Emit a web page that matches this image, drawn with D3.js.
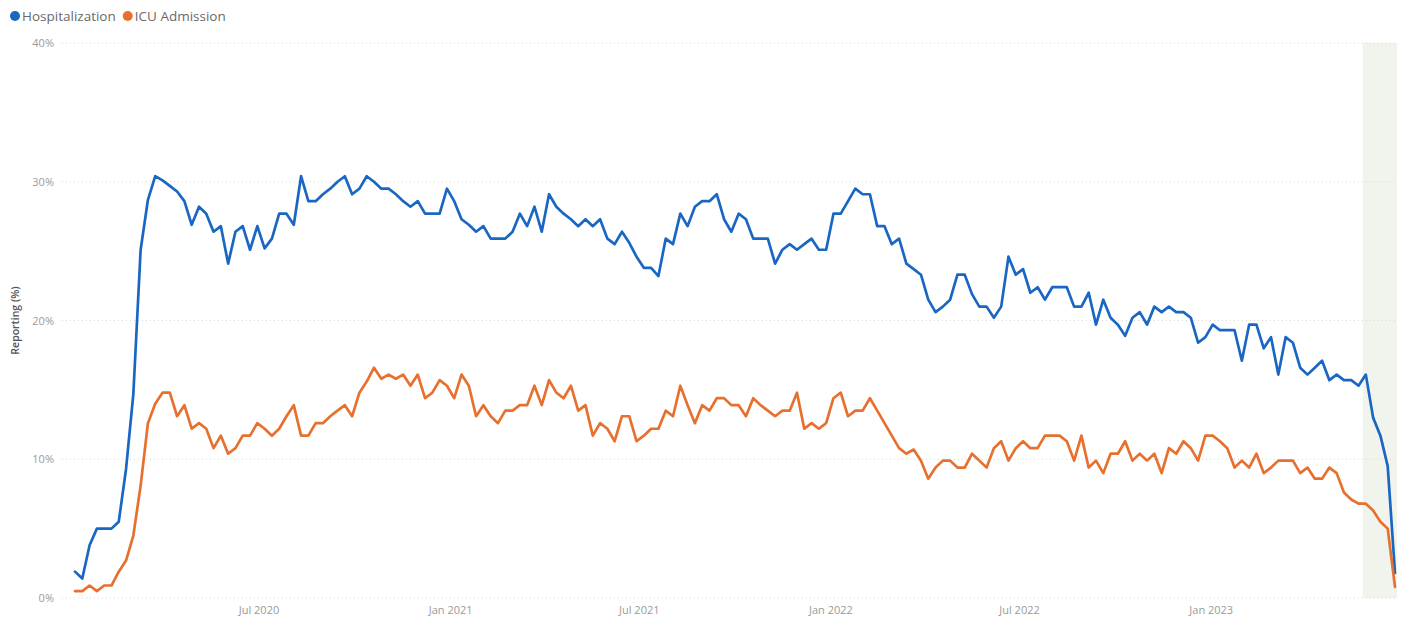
<!DOCTYPE html>
<html>
<head>
<meta charset="utf-8">
<script src="https://cdn.jsdelivr.net/npm/d3@7/dist/d3.min.js"></script>
<style>
  html, body { margin: 0; padding: 0; background: #fff; }
  svg { display: block; font-family: "Open Sans", "Noto Sans", sans-serif; }
</style>
</head>
<body>
<svg id="chart" width="1403" height="623"></svg>
<script>
// ---- data ----
const seriesNames = ["Hospitalization", "ICU Admission"];
const seriesColors = ["#1a67c3", "#e8702f"];
const startDate = "2020-01-04"; // first week-ending date; weekly series
const hospitalization = [
  1.9, 1.4, 3.8, 5.0, 5.0, 5.0, 5.5, 9.3, 14.7, 25.1, 28.7, 30.4, 30.1, 29.7, 29.3, 28.6, 26.9, 28.2, 27.7, 26.4, 26.8, 24.1, 26.4, 26.8, 25.1, 26.8, 25.2, 25.9, 27.7, 27.7,
  26.9, 30.4, 28.6, 28.6, 29.1, 29.5, 30.0, 30.4, 29.1, 29.5, 30.4, 30.0, 29.5, 29.5, 29.1, 28.6, 28.2, 28.6, 27.7, 27.7, 27.7, 29.5, 28.6, 27.3, 26.9, 26.4, 26.8, 25.9, 25.9, 25.9,
  26.4, 27.7, 26.8, 28.2, 26.4, 29.1, 28.2, 27.7, 27.3, 26.8, 27.3, 26.8, 27.3, 25.9, 25.5, 26.4, 25.6, 24.6, 23.8, 23.8, 23.2, 25.9, 25.5, 27.7, 26.8, 28.2, 28.6, 28.6, 29.1, 27.3,
  26.4, 27.7, 27.3, 25.9, 25.9, 25.9, 24.1, 25.1, 25.5, 25.1, 25.5, 25.9, 25.1, 25.1, 27.7, 27.7, 28.6, 29.5, 29.1, 29.1, 26.8, 26.8, 25.5, 25.9, 24.1, 23.7, 23.3, 21.5, 20.6, 21.0, 21.5,
  23.3, 23.3, 21.9, 21.0, 21.0, 20.2, 21.0, 24.6, 23.3, 23.7, 22.0, 22.4, 21.5, 22.4, 22.4, 22.4, 21.0, 21.0, 22.0, 19.7, 21.5, 20.2, 19.7, 18.9, 20.2, 20.6, 19.7, 21.0, 20.6, 21.0,
  20.6, 20.6, 20.2, 18.4, 18.8, 19.7, 19.3, 19.3, 19.3, 17.1, 19.7, 19.7, 18.0, 18.8, 16.1, 18.8, 18.4, 16.6, 16.1, 16.6, 17.1, 15.7, 16.1, 15.7, 15.7, 15.3, 16.1, 13.0, 11.7, 9.5, 1.8
];
const icuAdmission = [
  0.5, 0.5, 0.9, 0.5, 0.9, 0.9, 1.9, 2.7, 4.5, 8.1, 12.6, 14.0, 14.8, 14.8, 13.1, 13.9, 12.2, 12.6, 12.2, 10.8, 11.7, 10.4, 10.8, 11.7, 11.7, 12.6, 12.2, 11.7, 12.2, 13.1,
  13.9, 11.7, 11.7, 12.6, 12.6, 13.1, 13.5, 13.9, 13.1, 14.8, 15.6, 16.6, 15.8, 16.1, 15.8, 16.1, 15.3, 16.1, 14.4, 14.8, 15.7, 15.3, 14.4, 16.1, 15.3, 13.1, 13.9, 13.1, 12.6, 13.5,
  13.5, 13.9, 13.9, 15.3, 13.9, 15.7, 14.8, 14.4, 15.3, 13.5, 13.9, 11.7, 12.6, 12.2, 11.3, 13.1, 13.1, 11.3, 11.7, 12.2, 12.2, 13.5, 13.1, 15.3, 13.9, 12.6, 13.9, 13.5, 14.4, 14.4,
  13.9, 13.9, 13.1, 14.4, 13.9, 13.5, 13.1, 13.5, 13.5, 14.8, 12.2, 12.6, 12.2, 12.6, 14.4, 14.8, 13.1, 13.5, 13.5, 14.4, 13.5, 12.6, 11.7, 10.8, 10.4, 10.7, 9.9, 8.6, 9.4, 9.9, 9.9,
  9.4, 9.4, 10.4, 9.9, 9.4, 10.8, 11.3, 9.9, 10.8, 11.3, 10.8, 10.8, 11.7, 11.7, 11.7, 11.3, 9.9, 11.7, 9.4, 9.9, 9.0, 10.4, 10.4, 11.3, 9.9, 10.4, 9.9, 10.4, 9.0, 10.8,
  10.4, 11.3, 10.8, 9.9, 11.7, 11.7, 11.3, 10.8, 9.4, 9.9, 9.4, 10.4, 9.0, 9.4, 9.9, 9.9, 9.9, 9.0, 9.4, 8.6, 8.6, 9.4, 9.0, 7.6, 7.1, 6.8, 6.8, 6.3, 5.5, 5.0, 0.8
];
const yTicks = [0, 10, 20, 30, 40];
const xTickDates = ["2020-07-01", "2021-01-01", "2021-07-01", "2022-01-01", "2022-07-01", "2023-01-01"];
const shadeRange = ["2023-05-24", "2023-06-26"]; // highlighted recent period
const yTitle = "Reporting (%)";

// ---- build ----
const parse = d3.utcParse("%Y-%m-%d");
const start = parse(startDate);
const dates = hospitalization.map((_, i) => d3.utcDay.offset(start, i * 7));
const series = [hospitalization, icuAdmission].map((vals, k) => ({
  name: seriesNames[k], color: seriesColors[k],
  values: vals.map((v, i) => ({ date: dates[i], v }))
}));

const svg = d3.select("#chart");
const plotLeft = 62, plotRight = 1398;
const x = d3.scaleUtc().domain([dates[0], dates[dates.length - 1]]).range([75, 1395]);
const y = d3.scaleLinear().domain([0, 40]).range([598, 43]);

// shaded region
svg.append("rect")
  .attr("x", x(parse(shadeRange[0])))
  .attr("y", y(40))
  .attr("width", Math.min(plotRight, x(parse(shadeRange[1]))) - x(parse(shadeRange[0])))
  .attr("height", y(0) - y(40))
  .attr("fill", "#f1f4ec");

// gridlines
svg.append("g").selectAll("line").data(yTicks).join("line")
  .attr("x1", plotLeft).attr("x2", plotRight)
  .attr("y1", d => y(d)).attr("y2", d => y(d))
  .attr("stroke", "#d6d6d6").attr("stroke-width", 1)
  .attr("stroke-dasharray", "1,3");

// y axis labels
const yAxis = d3.axisLeft(y).tickValues(yTicks).tickFormat(d => d + "%").tickSize(0).tickPadding(0);
const gy = svg.append("g").attr("transform", "translate(54,0)").call(yAxis);
gy.select(".domain").remove();
gy.selectAll("text").attr("fill", "#9a9a9a").style("font-size", "11px").style("font-family", "'Open Sans', sans-serif");

// y title
svg.append("text")
  .attr("transform", "translate(19," + ((y(0) + y(40)) / 2) + ") rotate(-90)")
  .attr("text-anchor", "middle")
  .attr("fill", "#555")
  .style("font-size", "10.5px").style("font-weight", "600")
  .text(yTitle);

// x axis labels
const xAxis = d3.axisBottom(x).tickValues(xTickDates.map(parse))
  .tickFormat(d3.utcFormat("%b %Y")).tickSize(0).tickPadding(0);
const gx = svg.append("g").attr("transform", "translate(-3,606)").call(xAxis);
gx.select(".domain").remove();
gx.selectAll("text").attr("fill", "#9a9a9a").style("font-size", "11px").style("font-family", "'Open Sans', sans-serif");

// lines
const line = d3.line().x(d => x(d.date)).y(d => y(d.v));
svg.append("g").selectAll("path").data(series).join("path")
  .attr("d", d => line(d.values))
  .attr("fill", "none")
  .attr("stroke", d => d.color)
  .attr("stroke-width", 2.7)
  .attr("stroke-linejoin", "round")
  .attr("stroke-linecap", "round");

// legend
const legend = svg.append("g").attr("transform", "translate(0,16)");
let lx = 15;
series.forEach(s => {
  legend.append("circle").attr("cx", lx).attr("cy", 0).attr("r", 5).attr("fill", s.color);
  const t = legend.append("text").attr("x", lx + 7).attr("y", 5)
    .attr("fill", "#6a6a6a").style("font-size", "13.5px").text(s.name);
  lx += 7 + t.node().getComputedTextLength() + 12;
});
</script>
</body>
</html>
